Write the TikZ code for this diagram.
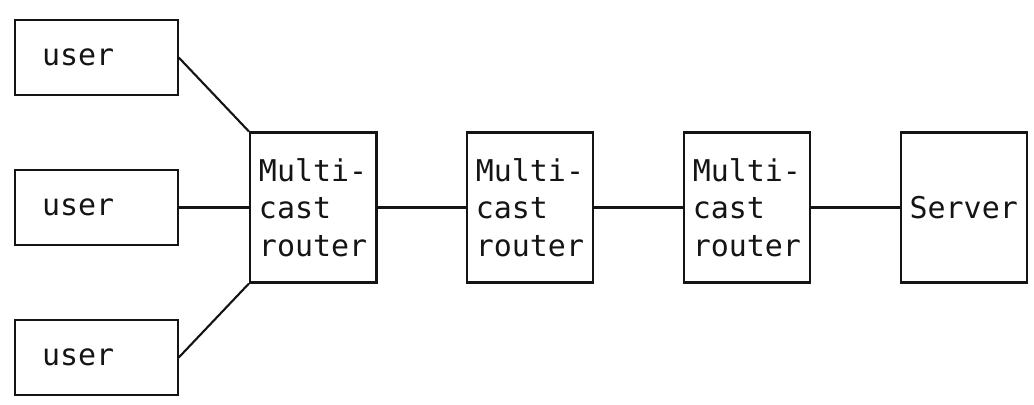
\documentclass[tikz,border=0pt]{standalone}
\usepackage{fontspec}
\setmonofont{DejaVu Sans Mono}
\usepackage{tikz}
\usepackage{xcolor}
\definecolor{asciiInk}{RGB}{20, 20, 20}

\begin{document}
\begin{tikzpicture}[x=0.4518cm, y=-0.9375cm,
    every node/.style={font=\ttfamily\fontsize{21.3}{26.6}\selectfont, text=asciiInk},
    userbox/.style={draw=asciiInk, line width=1.5pt, align=left, text width=2.711cm, inner xsep=0.678cm, inner ysep=0pt, minimum height=1.875cm},
    routerbox/.style={draw=asciiInk, line width=1.5pt, align=left, text width=2.711cm, inner xsep=0.226cm, inner ysep=0pt, minimum height=3.75cm},
    link/.style={draw=asciiInk, line width=1.5pt}]
    \useasboundingbox (-0.83,-0.533) rectangle (56.38,10.24);

    % Users
    \node[userbox] (user1) at (4.5,1) {user};
    \node[userbox] (user2) at (4.5,5) {user};
    \node[userbox] (user3) at (4.5,9) {user};

    % Multicast routers
    \node[routerbox] (router1) at (16.5,5) {Multi-\\cast\\router};
    \node[routerbox] (router2) at (28.5,5) {Multi-\\cast\\router};
    \node[routerbox] (router3) at (40.5,5) {Multi-\\cast\\router};

    % Server
    \node[routerbox] (server) at (52.5,5) {Server};

    \draw[link] (user1.east) -- (router1.north west);
    \draw[link] (user2.east) -- (router1.west);
    \draw[link] (user3.east) -- (router1.south west);
    \draw[link] (router1) -- (router2);
    \draw[link] (router2) -- (router3);
    \draw[link] (router3) -- (server);
\end{tikzpicture}
\end{document}
